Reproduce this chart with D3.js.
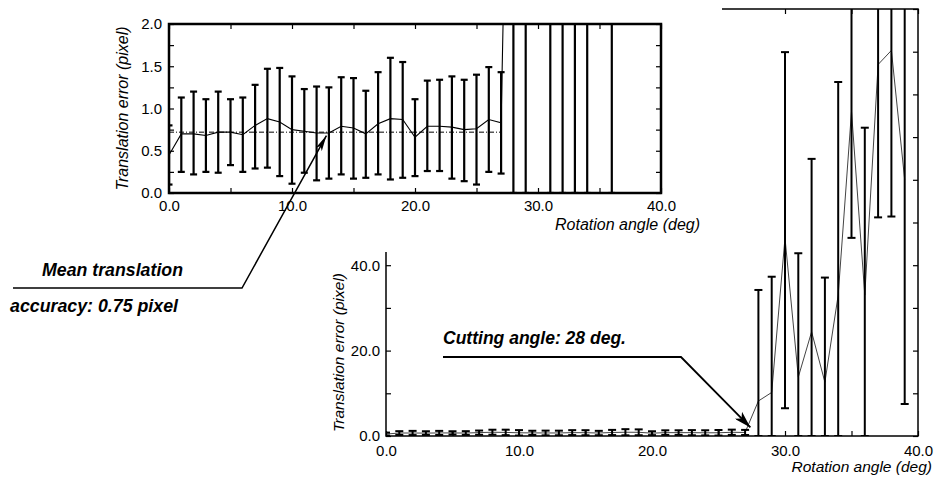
<!DOCTYPE html>
<head>
<meta charset="utf-8">
<script src="https://d3js.org/d3.v7.min.js"></script>
<style>
	body { margin: 0; background: #fff; }
	text { font-family: "Liberation Sans", Arial, Helvetica, sans-serif; }
</style>
</head>
<body>
<script type="text/javascript">

	var w = 934;
	var h = 478;

	// rotation angle (deg)
	var angles = [0, 1, 2, 3, 4, 5, 6, 7, 8, 9, 10, 11, 12, 13, 14, 15, 16, 17, 18, 19,
	              20, 21, 22, 23, 24, 25, 26, 27, 28, 29, 30, 31, 32, 33, 34, 35, 36, 37, 38, 39];
	// mean translation error (pixel)
	var meanErr = [0.45, 0.70, 0.70, 0.68, 0.72, 0.72, 0.69, 0.80, 0.88, 0.84,
	               0.75, 0.73, 0.71, 0.71, 0.79, 0.77, 0.70, 0.82, 0.88, 0.87,
	               0.66, 0.79, 0.79, 0.78, 0.75, 0.76, 0.87, 0.83, 8.2, 10.2,
	               46.4, 13.8, 24.4, 12.6, 33.0, 76.0, 33.0, 87.0, 90.3, 60.0];
	// top / bottom of the error bars
	var upperErr = [0.80, 1.13, 1.20, 1.11, 1.20, 1.11, 1.13, 1.28, 1.47, 1.48,
	                1.38, 1.23, 1.26, 1.25, 1.37, 1.36, 1.21, 1.43, 1.60, 1.55,
	                1.11, 1.33, 1.34, 1.38, 1.34, 1.40, 1.49, 1.43, 34.2, 37.3,
	                89.9, 42.8, 64.9, 37.1, 82.9, 106, 72.2, 123, 129, 112];
	var lowerErr = [0.10, 0.25, 0.22, 0.25, 0.24, 0.33, 0.25, 0.29, 0.30, 0.20,
	                0.11, 0.24, 0.15, 0.17, 0.22, 0.17, 0.18, 0.22, 0.16, 0.18,
	                0.20, 0.26, 0.26, 0.17, 0.14, 0.10, 0.25, 0.23, 0, 0,
	                6.5, 0, 0, 0, 0, 46.4, 0, 51.2, 51.4, 7.5];

	var meanLevel = 0.72;       // dash-dot level in the zoomed panel
	var meanLevelRange = [0, 27];

	var insetYTicks = [0, 0.25, 0.5, 0.75, 1, 1.25, 1.5, 1.75, 2];
	var insetYLabels = [0, 0.5, 1, 1.5, 2];
	var mainYTicks = [0, 10, 20, 30, 40, 50, 60, 70, 80, 90, 100];
	var mainYLabels = [0, 20, 40];
	var xTicks = [0, 5, 10, 15, 20, 25, 30, 35, 40];
	var xLabels = [0, 10, 20, 30, 40];

	var data = angles.map(function(a, i) {
		return {x: a, m: meanErr[i], hi: upperErr[i], lo: lowerErr[i]};
	});

	var svg = d3.select("body")
			.append("svg")
			.attr("width", w)
			.attr("height", h);

	var defs = svg.append("defs");

	function arrowHead(id, len, wid) {
		defs.append("marker")
			.attr("id", id)
			.attr("markerUnits", "userSpaceOnUse")
			.attr("viewBox", "0 0 " + len + " " + wid)
			.attr("refX", len)
			.attr("refY", wid / 2)
			.attr("markerWidth", len)
			.attr("markerHeight", wid)
			.attr("orient", "auto")
			.append("path")
			.attr("d", "M0,0L" + len + "," + (wid / 2) + "L0," + wid + "L" + (len * 0.25) + "," + (wid / 2) + "Z")
			.attr("fill", "#000");
	}
	arrowHead("headMean", 16, 7);
	arrowHead("headCut", 17, 10);

	function labelFmt(list) {
		return function(d) { return list.indexOf(d) >= 0 ? d.toFixed(1) : ""; };
	}

	function panel(o) {
		var g = svg.append("g");
		var x = d3.scaleLinear().domain([0, 40]).range([o.left, o.right]);
		var y = d3.scaleLinear().domain([0, o.ymax]).range([o.bottom, o.top]);

		defs.append("clipPath").attr("id", o.id)
			.append("rect")
			.attr("x", o.left).attr("y", o.top)
			.attr("width", o.right - o.left).attr("height", o.bottom - o.top);

		var plot = g.append("g").attr("clip-path", "url(#" + o.id + ")");

		if (o.level) {
			plot.append("line")
				.attr("x1", x(meanLevelRange[0])).attr("x2", x(meanLevelRange[1]))
				.attr("y1", y(meanLevel)).attr("y2", y(meanLevel))
				.attr("stroke", "#000").attr("stroke-width", 1)
				.attr("stroke-dasharray", "5,2,1,2");
		}

		plot.append("path")
			.datum(data)
			.attr("d", d3.line().x(function(d) { return x(d.x); }).y(function(d) { return y(d.m); }))
			.attr("fill", "none")
			.attr("stroke", o.lineColor)
			.attr("stroke-width", o.lineWidth);

		var bars = plot.selectAll("g.bar")
			.data(data)
			.enter()
			.append("g")
			.attr("class", "bar")
			.attr("stroke", "#000")
			.attr("stroke-width", o.barWidth);

		bars.append("line")
			.attr("x1", function(d) { return x(d.x); })
			.attr("x2", function(d) { return x(d.x); })
			.attr("y1", function(d) { return y(d.lo); })
			.attr("y2", function(d) { return y(d.hi); });
		bars.append("line")
			.attr("x1", function(d) { return x(d.x) - o.cap; })
			.attr("x2", function(d) { return x(d.x) + o.cap; })
			.attr("y1", function(d) { return y(d.hi); })
			.attr("y2", function(d) { return y(d.hi); });
		bars.append("line")
			.attr("x1", function(d) { return x(d.x) - o.cap; })
			.attr("x2", function(d) { return x(d.x) + o.cap; })
			.attr("y1", function(d) { return y(d.lo); })
			.attr("y2", function(d) { return y(d.lo); });

		// axes, ticks pointing inwards
		var axes = g.append("g");
		axes.append("g")
			.attr("transform", "translate(" + o.left + ",0)")
			.call(d3.axisLeft(y).tickValues(o.yTicks).tickSizeInner(-5).tickSizeOuter(0)
				.tickPadding(o.yPad).tickFormat(labelFmt(o.yLabels)));
		axes.append("g")
			.attr("transform", "translate(" + o.right + ",0)")
			.call(d3.axisRight(y).tickValues(o.yTicks).tickSizeInner(-5).tickSizeOuter(0).tickFormat(""));
		axes.append("g")
			.attr("transform", "translate(0," + o.bottom + ")")
			.call(d3.axisBottom(x).tickValues(xTicks).tickSizeInner(-5).tickSizeOuter(0)
				.tickPadding(o.xPad).tickFormat(labelFmt(xLabels)));
		axes.append("g")
			.attr("transform", "translate(0," + o.top + ")")
			.call(d3.axisTop(x).tickValues(xTicks).tickSizeInner(-5).tickSizeOuter(0).tickFormat(""));

		axes.selectAll(".domain").remove();
		axes.selectAll(".tick line").attr("stroke", "#000").attr("stroke-width", 1.2);
		axes.selectAll("text")
			.attr("font-size", 15)
			.attr("font-family", "Liberation Sans, Arial, sans-serif")
			.attr("fill", "#000");

		g.append("rect")
			.attr("x", o.left).attr("y", o.top)
			.attr("width", o.right - o.left).attr("height", o.bottom - o.top)
			.attr("fill", "none")
			.attr("stroke", "#000")
			.attr("stroke-width", o.frame);

		g.append("text")
			.attr("transform", "translate(" + o.yTitleX + "," + ((o.top + o.bottom) / 2 + o.yTitleShift) + ") rotate(-90)")
			.attr("text-anchor", "middle")
			.attr("font-size", o.titleSize)
			.attr("font-style", "italic")
			.text("Translation error (pixel)");

		g.append("text")
			.attr("x", o.xTitleRight)
			.attr("y", o.xTitleY)
			.attr("text-anchor", "end")
			.attr("font-size", o.titleSize)
			.attr("font-style", "italic")
			.text("Rotation angle (deg)");

		return {x: x, y: y};
	}

	// full range panel
	var main = panel({
		id: "clipMain", left: 386, right: 918, top: 9, bottom: 436, ymax: 100,
		yTicks: mainYTicks, yLabels: mainYLabels, yPad: 6, xPad: 9,
		lineColor: "#444", lineWidth: 1, barWidth: 2, cap: 4, frame: 1.5,
		yTitleX: 344, yTitleShift: 130, titleSize: 15.5,
		xTitleRight: 932, xTitleY: 472
	});

	// cutting angle note
	var cut = svg.append("g");
	cut.append("text")
		.attr("x", 443).attr("y", 344)
		.attr("font-size", 18).attr("font-weight", "bold").attr("font-style", "italic")
		.attr("textLength", 183).attr("lengthAdjust", "spacingAndGlyphs")
		.text("Cutting angle: 28 deg.");
	cut.append("path")
		.attr("d", "M443,357L681,357L" + main.x(27.4) + "," + main.y(2))
		.attr("fill", "none").attr("stroke", "#000").attr("stroke-width", 1.8)
		.attr("marker-end", "url(#headCut)");

	// white backing of the zoomed panel
	svg.append("rect")
		.attr("x", 0).attr("y", 0)
		.attr("width", 722).attr("height", 252)
		.attr("fill", "#fff");

	var inset = panel({
		id: "clipInset", left: 169, right: 661, top: 24, bottom: 193, ymax: 2,
		yTicks: insetYTicks, yLabels: insetYLabels, yPad: 7, xPad: 7, level: true,
		lineColor: "#000", lineWidth: 1.1, barWidth: 2.2, cap: 3.5, frame: 2.5,
		yTitleX: 128, yTitleShift: 0, titleSize: 16,
		xTitleRight: 700, xTitleY: 230
	});

	// mean accuracy note
	var note = svg.append("g");
	note.append("text")
		.attr("x", 42).attr("y", 276)
		.attr("font-size", 18).attr("font-weight", "bold").attr("font-style", "italic")
		.attr("textLength", 141).attr("lengthAdjust", "spacingAndGlyphs")
		.text("Mean translation");
	note.append("text")
		.attr("x", 10).attr("y", 312)
		.attr("font-size", 18).attr("font-weight", "bold").attr("font-style", "italic")
		.attr("textLength", 168).attr("lengthAdjust", "spacingAndGlyphs")
		.text("accuracy: 0.75 pixel");
	note.append("path")
		.attr("d", "M13,288L242,288L" + inset.x(12.8) + "," + inset.y(0.68))
		.attr("fill", "none").attr("stroke", "#000").attr("stroke-width", 1.5)
		.attr("marker-end", "url(#headMean)");

</script>
</body>
